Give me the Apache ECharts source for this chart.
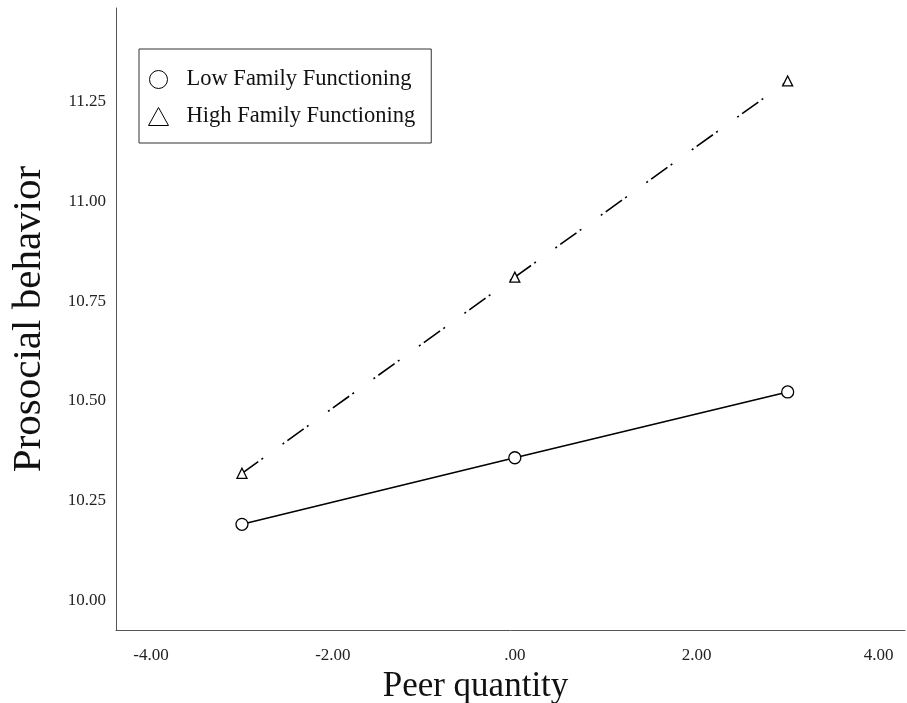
<!DOCTYPE html>
<html>
<head>
<meta charset="utf-8">
<title>Prosocial behavior by peer quantity</title>
<script src="https://cdn.jsdelivr.net/npm/echarts@6/dist/echarts.min.js"></script>
<style>
  html, body { margin: 0; padding: 0; background: #fff; }
  #chart { width: 907px; height: 703px; }
</style>
</head>
<body>
<div id="chart"></div>
<script>
const peerQuantity = [-3, 0, 3]
const lowFamily = [10.19, 10.357, 10.522]
const highFamily = [10.318, 10.81, 11.302]
const xTicks = [-4, -2, 0, 2, 4]
const yTicks = [10, 10.25, 10.5, 10.75, 11, 11.25]
const seriesNames = ['Low Family Functioning', 'High Family Functioning']

const serif = '"Liberation Serif", "DejaVu Serif", serif'

// SPSS style: 0 -> ".00"
const fmtX = (v) => {
  const s = Math.abs(v).toFixed(2)
  const body = s.startsWith('0') ? s.slice(1) : s
  return (v < 0 ? '-' : '') + body
}

const chart = echarts.init(document.getElementById('chart'))

const option = {
  animation: false,
  backgroundColor: '#fff',
  grid: {
    left: 116,
    top: 8,
    width: 789,
    height: 622,
    containLabel: false,
    outerBoundsMode: 'none',
  },
  legend: {
    orient: 'vertical',
    left: 139,
    top: 49,
    padding: [19, 16, 15, 9],
    itemWidth: 20,
    itemHeight: 18,
    itemGap: 14,
    borderColor: '#333',
    borderWidth: 1,
    textStyle: { fontFamily: serif, fontSize: 22.5, color: '#111', padding: [0, 0, 0, 13] },
    itemStyle: { color: '#fff', borderColor: '#000', borderWidth: 1 },
    data: [
      { name: seriesNames[0], icon: 'circle' },
      { name: seriesNames[1], icon: 'triangle' },
    ],
  },
  xAxis: {
    type: 'value',
    min: -4.385,
    max: 4.29,
    name: 'Peer quantity',
    nameLocation: 'middle',
    nameGap: 38,
    nameTextStyle: { fontFamily: serif, fontSize: 35, color: '#111', padding: [0, 70, 0, 0] },
    axisLine: { show: true, onZero: false, lineStyle: { color: '#555', width: 1 } },
    axisTick: { show: false },
    splitLine: { show: false },
    axisLabel: {
      customValues: xTicks,
      formatter: fmtX,
      margin: 17,
      fontFamily: serif,
      fontSize: 17,
      color: '#222',
    },
  },
  yAxis: {
    type: 'value',
    min: 9.925,
    max: 11.485,
    name: 'Prosocial behavior',
    nameLocation: 'middle',
    nameGap: 66,
    nameTextStyle: { fontFamily: serif, fontSize: 41, color: '#111' },
    axisLine: { show: true, onZero: false, lineStyle: { color: '#555', width: 1 } },
    axisTick: { show: false },
    splitLine: { show: false },
    axisLabel: {
      customValues: yTicks,
      formatter: (v) => v.toFixed(2),
      margin: 10,
      fontFamily: serif,
      fontSize: 17,
      color: '#222',
    },
  },
  series: [
    {
      name: seriesNames[0],
      type: 'line',
      data: peerQuantity.map((x, i) => [x, lowFamily[i]]),
      symbol: 'circle',
      symbolSize: 12,
      showAllSymbol: true,
      lineStyle: { color: '#000', width: 1.6 },
      itemStyle: { color: '#fff', borderColor: '#000', borderWidth: 1.3 },
      z: 3,
    },
    {
      name: seriesNames[1],
      type: 'line',
      data: peerQuantity.map((x, i) => [x, highFamily[i]]),
      symbol: 'triangle',
      symbolSize: 10,
      showAllSymbol: true,
      lineStyle: { color: '#000', width: 1.6, type: [20, 4, 2, 24, 2, 4] },
      itemStyle: { color: '#fff', borderColor: '#000', borderWidth: 1.3 },
      z: 3,
    },
  ],
}

chart.setOption(option)
</script>
</body>
</html>
